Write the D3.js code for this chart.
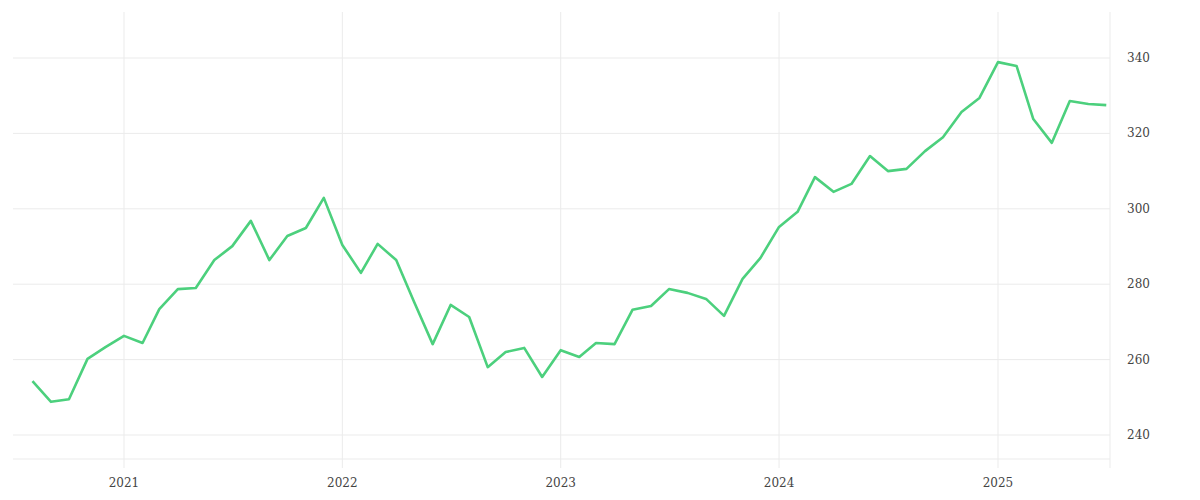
<!DOCTYPE html>
<html><head><meta charset="utf-8">
<script src="https://cdn.jsdelivr.net/npm/d3@7"></script>
<style>body{margin:0;background:#fff}text{font-family:"DejaVu Serif",serif;fill:#444;font-size:12px}</style>
</head><body><svg id="c" width="1200" height="500"></svg>
<script>
const startMonth = "2020-08";
const values = [254.3,248.8,249.5,260.2,263.3,266.3,264.4,273.4,278.7,279.0,286.4,290.1,296.8,286.4,292.8,294.9,302.9,
290.4,283.0,290.7,286.4,275.3,264.1,274.5,271.3,258.0,262.0,263.1,255.4,
262.5,260.7,264.4,264.1,273.2,274.2,278.7,277.7,276.1,271.6,281.4,287.0,
295.2,299.2,308.4,304.5,306.6,314.0,310.0,310.6,315.3,319.0,325.7,329.4,
338.9,337.9,323.8,317.5,328.6,327.8,327.5];
const yTicks = [240,260,280,300,320,340];
const xTickYears = [2021,2022,2023,2024,2025];

const data = values.map((v,i)=>({d:new Date(2020,7+i,1),v}));
const L=13,R=1110,T=12,B=459;
const x0 = d3.scaleTime().domain([new Date(2021,0,1),new Date(2025,0,1)]).range([124,998]);
const x = d3.scaleTime().domain([x0.invert(L),x0.invert(R)]).range([L,R]);
const y0 = d3.scaleLinear().domain([240,340]).range([435,58]);
const y = d3.scaleLinear().domain([y0.invert(B),y0.invert(T)]).range([B,T]);
const svg=d3.select("#c");
const g=svg.append("g");
g.selectAll(".hg").data(yTicks.concat([y.domain()[0]])).join("line")
 .attr("x1",L).attr("x2",R).attr("y1",d=>y(d)).attr("y2",d=>y(d)).attr("stroke","#ebebeb");
const xt=xTickYears.map(yr=>new Date(yr,0,1));
g.selectAll(".vg").data(xt.concat([x.domain()[1]])).join("line")
 .attr("x1",d=>x(d)).attr("x2",d=>x(d)).attr("y1",T).attr("y2",468).attr("stroke","#ebebeb");
g.selectAll(".yl").data(yTicks).join("text").attr("x",1127).attr("y",d=>y(d)+4).text(d=>d);
g.selectAll(".xl").data(xt).join("text").attr("x",d=>x(d)).attr("y",487).attr("text-anchor","middle").text(d=>d3.timeFormat("%Y")(d));
g.append("path").datum(data).attr("fill","none").attr("stroke","#4cd07d").attr("stroke-width",2.6)
 .attr("stroke-linejoin","round")
 .attr("d",d3.line().x(d=>x(d.d)).y(d=>y(d.v)));
</script></body></html>
